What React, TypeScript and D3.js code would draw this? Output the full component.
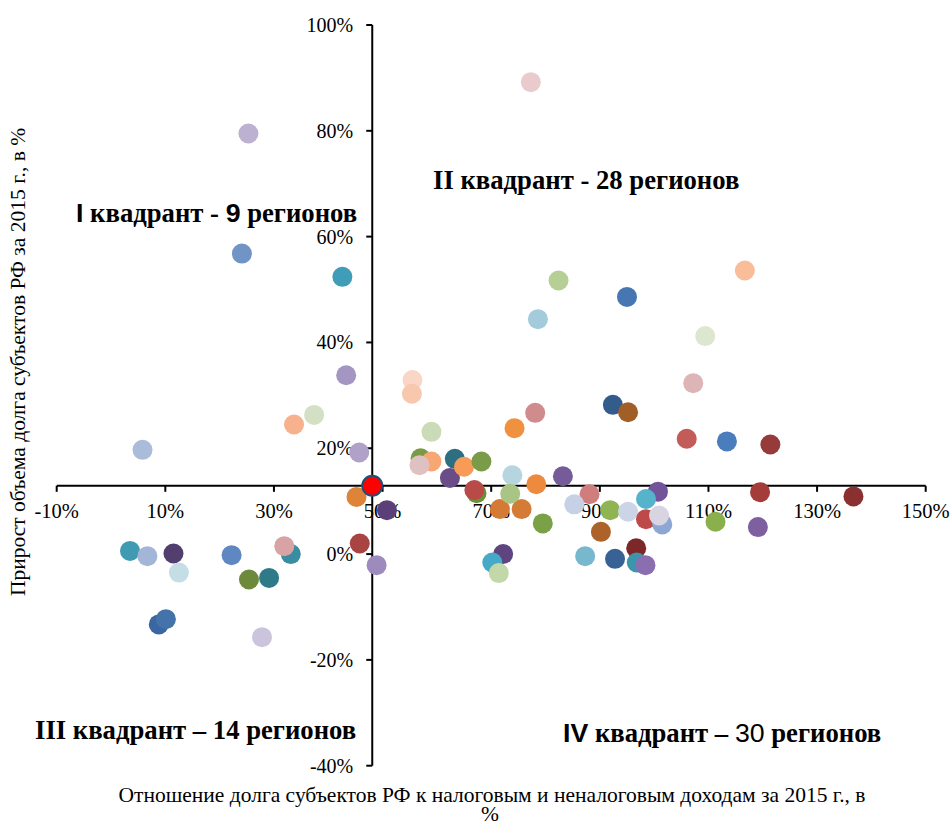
import * as d3 from "d3";

// Отношение долга к доходам, % (ось X) и прирост долга, % (ось Y)
const debtRatio = [
  25.3, 24.1, 42.6, 43.3, 37.4, 33.7, 5.8, 45.7,
  77.3, 116.7, 82.4, 95.0, 78.6, 109.4, 107.2, 55.5, 55.4, 92.4, 95.2, 78.1,
  74.3, 59.0, 106.0, 113.4, 121.4, 57.0, 59.0, 56.8, 63.3, 62.4, 65.0, 68.2,
  73.9, 83.2, 78.3,
  50.8, 67.3, 66.9, 71.6, 75.6, 73.5, 79.5, 88.1, 85.3, 91.9, 95.2, 90.2,
  100.7, 98.5, 98.5, 101.5, 100.9, 111.3, 119.5, 119.1, 136.7, 87.3, 92.8,
  96.7, 96.8, 98.4, 72.2, 70.2, 71.4, 48.9,
  45.2, 45.8, 3.5, 6.7, 11.5, 12.5, 22.2, 33.1, 31.9, 25.4, 29.1, 8.8, 10.1,
  27.8,
];
const debtGrowth = [
  79.5, 56.8, 52.4, 33.8, 26.3, 24.5, 19.7, 19.2,
  89.2, 53.6, 51.7, 48.6, 44.4, 41.2, 32.3, 32.9, 30.3, 28.2, 26.8, 26.7,
  23.8, 23.1, 21.8, 21.3, 20.7, 18.1, 17.5, 16.8, 18.0, 14.4, 16.5, 17.5,
  14.9, 14.7, 13.2,
  8.3, 11.5, 12.1, 8.5, 8.5, 11.4, 5.8, 11.3, 9.4, 8.3, 8.0, 4.2,
  11.8, 10.4, 6.6, 5.6, 7.3, 6.1, 11.7, 5.1, 10.9, -0.4, -0.9,
  1.1, -1.6, -2.1, 0.0, -1.6, -3.6, -2.1,
  10.8, 2.0, 0.6, -0.4, 0.1, -3.5, -0.2, 0.0, 1.5, -4.8, -4.5, -13.3, -12.3,
  -15.7,
];
const pointColors = [
  "#bcb1d1", "#7194c6", "#3f9db7", "#a496c2", "#d4e0c3", "#f7b18c", "#aabcda", "#afa1c8",
  "#e9cbce", "#f9bd9a", "#b6cf94", "#4677b3", "#a3cbdc", "#dde7cf", "#ddb5b7", "#f9d6c6", "#f7c7ae", "#335b8b", "#a15f27", "#d08b8d",
  "#f0913f", "#ccdbb7", "#c35b59", "#4a7dbc", "#963b3a", "#7a9a45", "#f9a675", "#e0c1c1", "#2d6e80", "#6a4c89", "#f79b57", "#7a9b47",
  "#b6d5e0", "#765b99", "#ee8a3e",
  "#5a3f78", "#6e8f3a", "#b84a48", "#d47a35", "#d47b36", "#a9c585", "#7aa048", "#cf7d7d", "#c6d1e5", "#8fb451", "#ccd5e8", "#ad6229",
  "#71549a", "#56b3cc", "#bd4a48", "#8ca7d4", "#d9d4e1", "#8ab04e", "#a43c3a", "#7e5fa0", "#8b3030", "#78b8cf", "#386196",
  "#7d2828", "#3a97ab", "#8b6eb0", "#5e4580", "#45aac8", "#c3d8a8", "#9d8bbd",
  "#de8438", "#a84442", "#3f9ab2", "#a3b6d8", "#533e70", "#c5dee5", "#5f88c3", "#3a8ca0", "#d7a3a4", "#6d8a3c", "#2f7a89", "#3a67a1", "#4373aa",
  "#cac4dc",
];
// среднее значение — точка пересечения осей
const avgRatio = 48.1;
const avgGrowth = 12.9;

const xTicks = [-10, 10, 30, 50, 70, 90, 110, 130, 150];
const yTicks = [-40, -20, 0, 20, 40, 60, 80, 100];

const serif = "'Liberation Serif', 'Times New Roman', serif";
const sans = "'Liberation Sans', Arial, sans-serif";

export default function App({ width = 952, height = 826 }) {
  const x = d3.scaleLinear([-10, 150], [56.7, 925.7]);
  const y = d3.scaleLinear([-40, 100], [765.7, 25]);
  const axisY = y(avgGrowth);
  const axisX = x(avgRatio);

  return (
    <svg
      width={width}
      height={height}
      style={{ position: "absolute", left: 0, top: 0, background: "#fff" }}
      fontFamily={serif}
    >
      {/* горизонтальная ось */}
      <g>
        <line x1={x(-10)} x2={x(150)} y1={axisY} y2={axisY} stroke="#000" strokeWidth={2} />
        {xTicks.map((t) => (
          <g key={t} transform={`translate(${x(t)},${axisY})`}>
            <line y1={0} y2={6} stroke="#000" strokeWidth={2} />
            <text y={32} textAnchor="middle" fontSize={20.5}>{`${t}%`}</text>
          </g>
        ))}
      </g>
      {/* вертикальная ось */}
      <g>
        <line x1={axisX} x2={axisX} y1={y(-40)} y2={y(100)} stroke="#000" strokeWidth={2} />
        {yTicks.map((t) => (
          <g key={t} transform={`translate(${axisX},${y(t)})`}>
            <line x1={-6} x2={0} stroke="#000" strokeWidth={2} />
            <text x={-19} dy="0.35em" textAnchor="end" fontSize={20}>{`${t}%`}</text>
          </g>
        ))}
      </g>

      <g>
        {debtRatio.map((d, i) => (
          <circle key={i} cx={x(d)} cy={y(debtGrowth[i])} r={10} fill={pointColors[i]} />
        ))}
      </g>
      <circle cx={x(avgRatio)} cy={y(avgGrowth)} r={10} fill="#ff0000" stroke="#1f4e79" strokeWidth={2} />

      {/* подписи квадрантов */}
      <g fontWeight="bold" fontSize={26.7}>
        <text x={76} y={222}>
          <tspan fontFamily={sans}>I</tspan> квадрант - <tspan fontFamily={sans}>9</tspan> регионов
        </text>
        <text x={433} y={189}>II квадрант - 28 регионов</text>
        <text x={35} y={739}>III квадрант – 14 регионов</text>
        <text x={563} y={742}>
          <tspan fontFamily={sans}>IV</tspan> квадрант – <tspan fontFamily={sans} fontWeight="normal">30</tspan> регионов
        </text>
      </g>

      {/* названия осей */}
      <text x={492} y={802} textAnchor="middle" fontSize={21.5}>
        Отношение долга субъектов РФ к налоговым и неналоговым доходам за 2015 г., в
      </text>
      <text x={490} y={821} textAnchor="middle" fontSize={21.5}>%</text>
      <text transform="translate(25,362) rotate(-90)" textAnchor="middle" fontSize={21.5}>
        Прирост объема долга субъектов РФ за 2015 г.,  в %
      </text>
    </svg>
  );
}
